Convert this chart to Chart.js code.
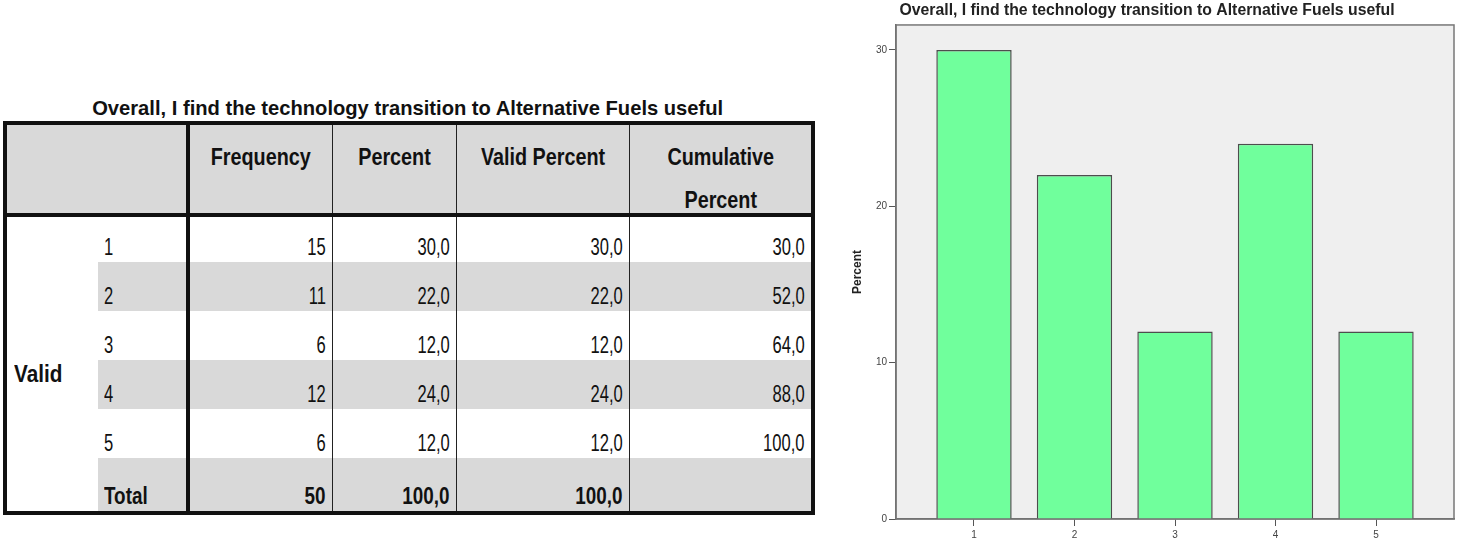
<!DOCTYPE html>
<html>
<head>
<meta charset="utf-8">
<script src="https://cdn.jsdelivr.net/npm/chart.js@4.4.1/dist/chart.umd.min.js"></script>
<style>
  body { margin: 0; background: #fff; width: 1459px; height: 545px; overflow: hidden; position: relative;
         font-family: 'Liberation Sans', Arial, sans-serif; color: #111; }
  .t { display: inline-block; white-space: nowrap; }
  #tableTitle { position: absolute; left: 3px; top: 95px; width: 809px; text-align: center;
                font-size: 21px; font-weight: bold; line-height: 26px; }
  #tableTitle .t { transform: scaleX(0.96); transform-origin: center; }
  #freqTable { position: absolute; left: 3px; top: 121px; width: 808px; border-collapse: collapse;
               table-layout: fixed; border: 4px solid #111; font-size: 23px; }
  #freqTable td, #freqTable th { padding: 0 6px; white-space: nowrap; overflow: visible; }
  #freqTable thead th { background: #d9d9d9; font-weight: bold; height: 69px; padding-top: 19px; vertical-align: top;
                        text-align: center; line-height: 26px; border-left: 1px solid #222; }
  #freqTable thead th .t { display: block; transform: scaleX(0.86); transform-origin: center; }
  #freqTable thead th .t.l2 { margin-top: 17px; }
  #freqTable thead { border-bottom: 4px solid #111; }
  #freqTable tbody td { height: 47px; line-height: 26px; vertical-align: bottom; padding-bottom: 2px; text-align: right; }
  #freqTable tbody tr.row0 td { height: 43px; }
  #freqTable tbody tr.total td { height: 51px; }
  #freqTable tbody td .t { transform: scaleX(0.72); transform-origin: right center; }
  #freqTable tbody td.lab .t { transform-origin: left center; }
  #freqTable tr.total td .t { transform: scaleX(0.82); }
  #freqTable .num { border-left: 1px solid #222; }
  #freqTable .first { border-left: 4px solid #111; }
  #freqTable .lab { text-align: left; }
  #freqTable tbody td.valid { text-align: left; vertical-align: middle; font-weight: bold; background: #fff;
                              padding: 20px 0 0 7px; }
  #freqTable td.valid .t { transform: scaleX(0.9); transform-origin: left center; }
  #freqTable tr.band td { background: #d9d9d9; }
  #freqTable tr.band td.valid { background: #fff; }
  #freqTable tr.total td { font-weight: bold; }
  #percentChart { position: absolute; left: 840px; top: 0; }
</style>
</head>
<body>
<div id="tableTitle"><span class="t" id="tableTitleText"></span></div>
<table id="freqTable">
  <colgroup>
    <col style="width:93px"><col style="width:90px"><col style="width:144px">
    <col style="width:124px"><col style="width:173px"><col style="width:184px">
  </colgroup>
  <thead>
    <tr>
      <th style="border-left:none"></th><th style="border-left:none"></th>
      <th class="first"><span class="t">Frequency</span></th>
      <th><span class="t">Percent</span></th>
      <th><span class="t">Valid Percent</span></th>
      <th><span class="t">Cumulative</span><span class="t l2">Percent</span></th>
    </tr>
  </thead>
  <tbody id="tableBody"></tbody>
</table>
<canvas id="percentChart" width="619" height="545"></canvas>
<script>
const chartTitle = 'Overall, I find the technology transition to Alternative Fuels useful';
const categories = [1, 2, 3, 4, 5];
const frequencies = [15, 11, 6, 12, 6];
const percents = [30.0, 22.0, 12.0, 24.0, 12.0];
const validPercents = [30.0, 22.0, 12.0, 24.0, 12.0];
const cumulativePercents = [30.0, 52.0, 64.0, 88.0, 100.0];
const totalFrequency = 50;
const totalPercent = 100.0;
const yTicks = [0, 10, 20, 30];

const fontFamily = "'Liberation Sans', Arial, sans-serif";
const fmt = v => v.toFixed(1).replace('.', ',');
const span = s => '<span class="t">' + s + '</span>';

// Table
document.getElementById('tableTitleText').textContent = chartTitle;
const body = document.getElementById('tableBody');
let html = '';
categories.forEach((c, i) => {
    html += '<tr class="row' + i + (i % 2 === 1 ? ' band' : '') + '">';
    if (i === 0) html += '<td class="valid" rowspan="6">' + span('Valid') + '</td>';
    html += '<td class="lab">' + span(c) + '</td>' +
        '<td class="first">' + span(frequencies[i]) + '</td>' +
        '<td class="num">' + span(fmt(percents[i])) + '</td>' +
        '<td class="num">' + span(fmt(validPercents[i])) + '</td>' +
        '<td class="num">' + span(fmt(cumulativePercents[i])) + '</td></tr>';
});
html += '<tr class="band total"><td class="lab">' + span('Total') + '</td>' +
    '<td class="first">' + span(totalFrequency) + '</td>' +
    '<td class="num">' + span(fmt(totalPercent)) + '</td>' +
    '<td class="num">' + span(fmt(totalPercent)) + '</td><td class="num"></td></tr>';
body.innerHTML = html;

// Plot area background + frame
const plotFrame = {
    id: 'plotFrame',
    beforeDraw(chart) {
        const { ctx, chartArea: a } = chart;
        ctx.save();
        ctx.fillStyle = '#efefef';
        ctx.fillRect(a.left, a.top, a.right - a.left, a.bottom - a.top);
        ctx.restore();
    },
    beforeDatasetsDraw(chart) {
        const { ctx, chartArea: a } = chart;
        ctx.save();
        ctx.strokeStyle = '#777';
        ctx.lineWidth = 1.5;
        ctx.strokeRect(a.left, a.top, a.right - a.left, a.bottom - a.top);
        ctx.restore();
    }
};

const ctx = document.getElementById('percentChart').getContext('2d');
new Chart(ctx, {
    type: 'bar',
    data: {
        datasets: [{
            data: categories.map((c, i) => ({ x: c, y: percents[i] })),
            backgroundColor: '#70ff9c',
            borderColor: '#4d4d4d',
            borderWidth: 1.5,
            barPercentage: 0.75,
            categoryPercentage: 1
        }]
    },
    options: {
        responsive: false,
        animation: false,
        layout: { padding: { left: 0, right: 5, top: 0, bottom: 0 } },
        plugins: {
            legend: { display: false },
            tooltip: { enabled: false },
            title: {
                display: true,
                text: chartTitle,
                color: '#222',
                font: { family: fontFamily, size: 15.8, weight: 'bold' },
                padding: { top: 1, bottom: 5 }
            }
        },
        scales: {
            x: {
                type: 'linear',
                min: 0.224,
                max: 5.776,
                offset: false,
                afterBuildTicks: s => { s.ticks = categories.map(v => ({ value: v })); },
                afterFit: s => { s.height = 26; },
                ticks: { color: '#444', font: { family: fontFamily, size: 10 }, padding: 3 },
                grid: { offset: false, drawOnChartArea: false, tickLength: 7, color: '#555' },
                border: { color: '#666', width: 1.5 }
            },
            y: {
                min: 0,
                max: 31.6,
                afterBuildTicks: s => { s.ticks = yTicks.map(v => ({ value: v })); },
                afterFit: s => { s.width = 56; },
                ticks: { color: '#444', font: { family: fontFamily, size: 10 }, padding: 2 },
                grid: { drawOnChartArea: false, tickLength: 7, color: '#555' },
                border: { color: '#666', width: 1.5 },
                title: {
                    display: true,
                    text: 'Percent',
                    color: '#222',
                    font: { family: fontFamily, size: 12, weight: 'bold' },
                    padding: { top: 10, bottom: 0 }
                }
            }
        }
    },
    plugins: [plotFrame]
});
</script>
</body>
</html>
